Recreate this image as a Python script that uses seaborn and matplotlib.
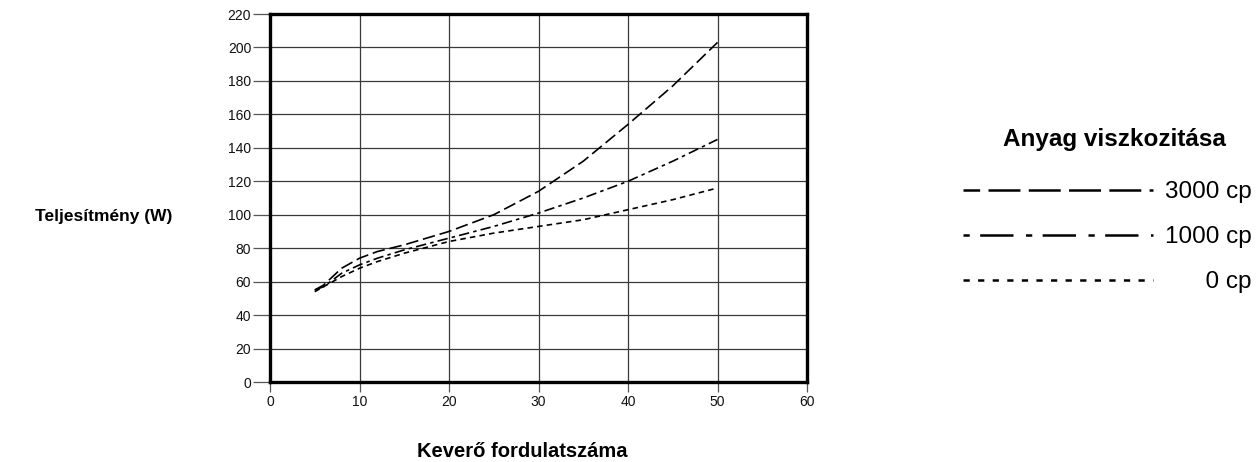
import matplotlib
matplotlib.use("Agg")
import matplotlib.pyplot as plt
from matplotlib.lines import Line2D
import seaborn as sns
import pandas as pd

# values
speed = [5, 6, 7, 8, 10, 12, 15, 20, 25, 30, 35, 40, 45, 50]
power_3000 = [55, 58, 63, 68, 74, 78, 82, 90, 100, 114, 132, 154, 177, 203]
power_1000 = [55, 57, 61, 65, 70, 74, 79, 86, 93, 101, 110, 120, 132, 145]
power_0 = [54, 57, 60, 63, 68, 72, 77, 84, 89, 93, 97, 103, 109, 116]
series_labels = ["3000 cp", "1000 cp", "0 cp"]

x_ticks = [0, 10, 20, 30, 40, 50, 60]
y_ticks = list(range(0, 221, 20))

sns.set_style("white")
plt.rcParams["font.family"] = ["Liberation Sans", "DejaVu Sans"]
plt.rcParams["lines.scale_dashes"] = False
plt.rcParams["text.color"] = "black"
plt.rcParams["axes.labelcolor"] = "black"

fig = plt.figure(figsize=(12.59, 4.62), dpi=100)
ax = fig.add_axes([270 / 1259, 80 / 462, 537 / 1259, 368 / 462])

plot_styles = [(0, (9, 3.5)), (0, (7.5, 3, 2.5, 3)), (0, (4, 3))]
legend_styles = [(11, (23, 6)), (0, (4.5, 7.5, 24, 9)), (0, (4.5, 6))]

for vals, style in zip([power_3000, power_1000, power_0], plot_styles):
    df = pd.DataFrame({"x": speed, "y": vals})
    sns.lineplot(data=df, x="x", y="y", ax=ax, color="black", linewidth=1.2,
                 linestyle=style, estimator=None)

ax.set_xlim(0, 60)
ax.set_ylim(0, 220)
ax.set_xticks(x_ticks)
ax.set_yticks(y_ticks)
ax.grid(True, color="#3a3a3a", linewidth=0.9)
for sp in ax.spines.values():
    sp.set_visible(True)
    sp.set_color("black")
    sp.set_linewidth(2.4)
ax.tick_params(axis="y", length=12, width=0.9, color="#555555", pad=1.5,
               labelsize=10, labelcolor="#111111", left=True)
ax.tick_params(axis="x", length=7, width=0.9, color="#555555", pad=2,
               labelsize=10, labelcolor="#111111", bottom=True)

ax.set_ylabel("Teljesítmény (W)", rotation=0, fontsize=12.5, fontweight="bold",
              ha="center", va="center")
ax.yaxis.set_label_coords(-0.309, 0.449)
ax.set_xlabel("Keverő fordulatszáma", fontsize=14.5, fontweight="bold",
              ha="center", va="center")
ax.xaxis.set_label_coords(0.469, -0.19)

# legend
fig.text(1114 / 1259, 1 - 139 / 462, "Anyag viszkozitása", fontsize=17.5,
         fontweight="bold", ha="center", va="center")
handles = [Line2D([], [], color="black", linewidth=1.8, linestyle=s)
           for s in legend_styles]
labels = ["3000 cp", "1000 cp", "\u2007\u2007\u20070 cp"]
leg = fig.legend(handles, labels, loc="upper left",
                 bbox_to_anchor=(963 / 1259, 1 - 181 / 462),
                 frameon=False, fontsize=17.5, handlelength=7.8,
                 handletextpad=0.5, labelspacing=0.95,
                 borderpad=0, borderaxespad=0)

fig.savefig("out.png", dpi=100)
